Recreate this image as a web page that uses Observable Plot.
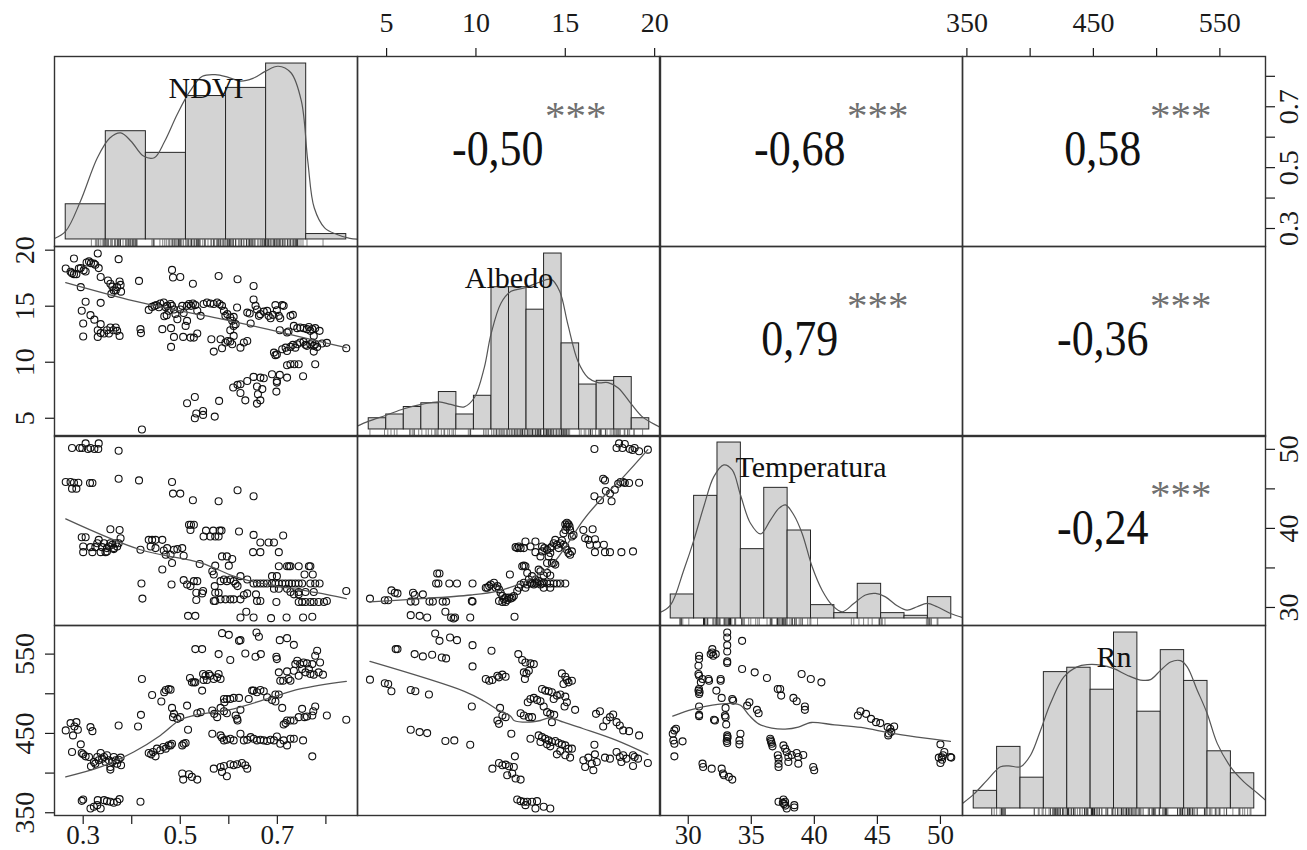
<!DOCTYPE html>
<html><head><meta charset="utf-8">
<script src="https://cdn.jsdelivr.net/npm/d3@7"></script>
<script src="https://cdn.jsdelivr.net/npm/@observablehq/plot@0.6"></script>
<style>
html,body{margin:0;padding:0;background:#fff;}
#chart{position:relative;width:1307px;height:850px;overflow:hidden;background:#fff;}
</style></head><body><div id="chart"></div>
<script>
// ---------------- DATA ----------------
const variables = ["NDVI", "Albedo", "Temperatura", "Rn"];

// scatter: [NDVI, Albedo]
const scatterNdviAlbedo = [[0.264,18.36],[0.274,18.07],[0.277,17.95],[0.281,17.86],[0.286,17.86],[0.291,18.36],[0.281,19.26],[0.301,18.2],[0.307,18.9],[0.312,19.0],[0.316,18.84],[0.322,18.8],[0.325,18.7],[0.330,19.7],[0.332,18.4],[0.336,17.6],[0.305,18.1],[0.295,18.4],[0.351,17.3],[0.356,17.0],[0.36,16.75],[0.363,16.4],[0.367,16.4],[0.37,16.7],[0.373,19.2],[0.375,17.2],[0.377,16.9],[0.378,16.3],[0.358,16.1],
[0.295,16.7],[0.305,15.4],[0.297,14.6],[0.30,13.45],[0.30,12.3],[0.315,14.2],[0.323,13.8],[0.336,15.3],[0.336,13.4],[0.33,12.85],[0.33,12.26],[0.336,12.6],[0.343,12.56],[0.353,12.56],[0.356,13.1],[0.362,12.86],[0.367,13.1],[0.37,12.8],[0.375,12.35],[0.349,12.86],
[0.415,17.26],[0.418,12.95],[0.419,12.6],[0.421,4.0],[0.435,14.67],[0.442,14.94],[0.447,15.03],[0.451,15.1],[0.456,14.9],[0.459,15.24],[0.466,15.33],[0.47,14.9],[0.473,15.03],[0.476,14.6],[0.48,15.2],[0.467,14.1],[0.472,14.2],[0.483,15.03],[0.487,14.7],[0.49,14.3],[0.494,13.84],[0.50,14.7],[0.504,15.03],[0.507,14.4],[0.514,15.03],[0.518,15.2],[0.522,15.03],[0.526,15.24],[0.531,15.1],[0.535,14.6],[0.542,14.14],[0.548,15.2],[0.555,15.33],[0.562,15.24],[0.569,15.2],[0.576,15.33],[0.581,15.2],[0.586,15.03],[0.59,14.58],[0.593,14.14],[0.597,14.29],[0.603,13.99],[0.607,13.7],[0.61,14.05],[0.617,14.88],
[0.483,18.24],[0.485,17.56],[0.50,17.6],[0.526,17.0],[0.579,17.7],[0.618,17.4],[0.651,16.8],
[0.463,12.95],[0.481,13.04],[0.481,11.37],[0.487,12.26],[0.506,12.26],[0.511,13.24],[0.514,13.69],[0.521,12.2],[0.528,12.2],[0.535,12.56],
[0.514,6.34],[0.53,6.9],[0.533,5.42],[0.53,5.0],[0.547,5.65],[0.547,5.3],[0.571,5.15],[0.58,6.55],
[0.564,12.05],[0.569,10.95],[0.583,12.05],[0.586,11.25],[0.593,11.76],[0.598,11.9],[0.603,11.85],[0.607,11.6],[0.61,12.35],[0.603,12.86],[0.61,13.24],[0.614,13.4],[0.624,11.3],[0.631,11.76],[0.638,11.9],
[0.638,14.43],[0.643,14.35],[0.645,13.45],[0.651,15.6],[0.655,15.03],[0.658,14.7],[0.662,14.14],[0.665,14.29],[0.672,14.52],[0.679,14.58],[0.682,14.14],[0.686,13.93],[0.691,14.23],[0.696,15.1],[0.699,14.64],[0.703,14.14],[0.706,13.93],[0.71,15.1],[0.713,15.03],
[0.705,12.86],[0.72,12.65],[0.723,12.74],[0.727,14.14],[0.732,14.23],[0.734,13.24],[0.741,13.04],[0.747,13.1],[0.754,13.04],[0.761,12.95],[0.765,13.15],[0.768,12.8],[0.772,12.95],[0.775,12.35],[0.778,13.04],[0.787,12.8],
[0.693,10.86],[0.696,10.63],[0.699,10.7],[0.71,11.16],[0.717,11.3],[0.72,11.0],[0.727,11.37],[0.732,11.55],[0.737,11.3],[0.741,11.6],[0.747,11.76],[0.754,11.82],[0.758,11.55],[0.761,11.46],[0.768,11.6],[0.772,11.76],[0.775,11.46],[0.778,11.6],[0.782,11.37],[0.775,10.95],[0.792,11.67],[0.802,11.73],[0.842,11.25],
[0.72,9.73],[0.727,9.82],[0.735,9.82],[0.744,9.82],[0.778,9.82],[0.753,8.75],[0.705,8.87],[0.72,8.63],[0.699,8.33],[0.699,8.18],[0.698,7.38],[0.689,8.93],[0.672,8.57],[0.665,8.63],[0.658,7.83],[0.66,7.14],[0.658,6.31],[0.665,6.6],[0.669,7.6],[0.651,8.69],[0.638,8.33],[0.634,6.6],[0.624,8.04],[0.624,7.26],[0.618,7.98],[0.609,7.74]];

// scatter: [NDVI, Temperatura]
const scatterNdviTemp = [[0.277,50.16],[0.293,50.16],[0.298,50.16],[0.305,50.75],[0.31,50.04],[0.315,50.16],[0.323,50.04],[0.331,50.04],[0.332,50.75],[0.373,49.83],
[0.264,45.86],[0.274,45.86],[0.277,45.03],[0.281,45.78],[0.286,45.03],[0.29,45.78],[0.314,45.74],[0.319,45.74],[0.373,46.28],[0.415,46.07],[0.483,45.86],[0.485,44.4],[0.50,44.4],[0.526,43.56],[0.579,43.44],[0.618,44.82],[0.651,44.07],
[0.297,38.89],[0.305,38.89],[0.30,37.72],[0.30,37.0],[0.315,37.63],[0.319,37.0],[0.325,37.63],[0.329,38.13],[0.332,38.55],[0.336,37.0],[0.339,37.63],[0.343,38.13],[0.346,37.0],[0.349,37.51],[0.353,37.72],[0.356,38.13],[0.36,37.93],[0.363,37.51],[0.367,38.13],[0.37,37.72],[0.373,38.13],[0.377,38.76],[0.356,39.89],[0.375,39.8],[0.349,37.09],[0.363,37.38],
[0.418,37.3],[0.435,38.55],[0.442,38.55],[0.449,38.55],[0.463,38.55],[0.439,37.72],[0.449,37.51],[0.466,37.21],[0.473,37.51],[0.47,36.67],[0.48,36.67],[0.487,37.3],[0.494,37.38],[0.504,37.51],[0.507,36.55],[0.483,35.63],[0.463,34.8],[0.42,33.04],[0.422,31.12],[0.482,32.91],[0.507,33.46],[0.514,32.91],[0.521,32.7],[0.528,33.33],[0.535,33.33],[0.533,31.87],[0.547,32.08],[0.545,31.78],[0.533,30.95],[0.516,28.94],[0.531,28.94],
[0.518,40.47],[0.522,40.47],[0.528,40.47],[0.521,39.8],[0.553,39.72],[0.568,39.72],[0.581,39.72],[0.585,39.72],[0.572,38.97],[0.548,38.97],[0.562,38.97],[0.579,38.97],[0.586,36.46],[0.596,36.46],[0.607,36.13],[0.60,35.29],[0.54,35.5],[0.566,34.58],[0.569,34.17],[0.572,35.29],
[0.571,32.7],[0.583,33.33],[0.59,33.54],[0.596,33.33],[0.603,33.54],[0.61,33.33],[0.614,33.0],[0.618,32.7],[0.624,33.96],[0.638,33.54],[0.583,31.03],[0.593,31.03],[0.603,31.03],[0.61,31.03],[0.624,31.03],[0.631,31.58],[0.638,31.78],[0.572,30.82],[0.579,31.87],[0.572,31.87],
[0.621,39.6],[0.651,39.18],[0.665,38.22],[0.682,38.22],[0.693,38.22],[0.65,37.0],[0.665,37.0],[0.703,37.0],[0.712,39.1],[0.689,33.96],[0.699,33.96],[0.703,35.21],[0.72,35.21],[0.724,35.21],[0.727,35.21],[0.744,35.21],[0.765,35.21],[0.768,35.21],[0.756,34.17],[0.773,34.17],
[0.651,33.04],[0.658,33.04],[0.665,33.04],[0.672,33.04],[0.679,33.04],[0.689,33.04],[0.696,33.04],[0.703,33.04],[0.71,33.04],[0.717,33.04],[0.724,33.04],[0.73,33.04],[0.737,33.04],[0.744,33.04],[0.751,33.04],[0.768,33.04],[0.778,33.04],[0.787,33.04],
[0.693,32.37],[0.703,32.37],[0.72,32.37],[0.727,31.95],[0.734,31.66],[0.744,31.66],[0.758,31.95],[0.775,31.95],[0.658,30.82],[0.665,30.82],[0.698,30.7],[0.744,30.7],[0.751,30.7],[0.758,30.7],[0.768,30.7],[0.775,30.7],[0.785,30.7],[0.796,30.7],[0.802,30.82],[0.656,31.66],[0.842,32.08],
[0.624,28.74],[0.636,29.45],[0.651,28.74],[0.687,28.65],[0.719,28.74],[0.753,28.74],[0.772,28.82],[0.744,31.95],[0.569,30.82]];

// scatter: [NDVI, Rn]
const scatterNdviRn = [[0.264,453.8],[0.274,463],[0.279,447.5],[0.282,458.8],[0.286,464.2],[0.289,454.6],[0.295,436.2],[0.277,426.6],[0.297,425.3],[0.30,423.6],[0.305,421.1],[0.312,420.3],[0.315,458],[0.319,452.9],[0.316,408.6],[0.322,414],[0.325,411.9],[0.329,420.3],[0.332,416.1],[0.336,425.3],[0.339,418.2],[0.343,420.3],[0.346,414],[0.349,422.4],[0.353,416.1],[0.356,407.7],[0.36,414],[0.363,420.3],[0.367,416.1],[0.37,411.9],[0.373,416.9],[0.377,419.5],[0.378,409.8],[0.356,404.4],[0.373,460],
[0.297,365],[0.30,366.7],[0.315,355.4],[0.322,357.5],[0.329,359.6],[0.33,365.9],[0.336,355.4],[0.343,365.9],[0.349,364.6],[0.356,363.8],[0.363,362.6],[0.37,363.8],[0.375,367.2],[0.418,363.8],
[0.413,458.8],[0.419,473.4],[0.421,518.6],
[0.435,425.3],[0.44,423.6],[0.444,426.6],[0.449,421.1],[0.452,430.8],[0.459,428.7],[0.465,432.8],[0.47,430.8],[0.476,434.9],[0.48,434.9],[0.483,437],
[0.442,498.5],[0.461,490.2],[0.467,501.9],[0.47,504.8],[0.476,506.1],[0.48,505.2],[0.483,482.2],[0.485,470.5],[0.487,474.7],[0.494,468.4],[0.50,470.5],[0.504,434.9],[0.507,437],[0.511,437.9],[0.514,485.1],[0.516,454.6],[0.52,519.9],[0.524,514.4],[0.528,514.4],[0.531,514.4],[0.535,475.5],[0.542,476.8],[0.545,504],[0.547,524.9],[0.548,517.4],[0.552,522.8],[0.555,517.4],[0.559,524.9],[0.562,522.8],[0.569,518.6],[0.576,520.7],[0.579,524.9],[0.583,518.6],
[0.531,556.3],[0.545,556.3],[0.579,550],
[0.504,399.4],[0.506,391.8],[0.518,398.5],[0.524,395.2],[0.535,391.8],[0.569,405.6],[0.583,407.7],[0.586,401.5],[0.59,409],[0.596,396],[0.603,411.1],[0.61,409.8],[0.617,411.1],[0.627,412.8],[0.634,409.8],[0.638,405.6],
[0.566,449.6],[0.583,447.5],[0.586,444.6],[0.59,441.2],[0.596,442],[0.603,443.3],[0.61,441.2],[0.624,449.6],[0.631,441.2],[0.638,442],[0.645,445.4],[0.651,443.3],[0.658,441.2],[0.665,442],[0.672,441.2],[0.679,440.4],[0.686,442],[0.693,441.2],[0.699,446.2],[0.706,437],[0.713,441.2],[0.72,434.9],[0.727,443.3],[0.734,443.3],[0.753,441.2],
[0.566,478.9],[0.57,474.7],[0.576,470.5],[0.583,482.2],[0.59,493.5],[0.591,489.3],[0.596,493.5],[0.603,493.5],[0.61,494.8],[0.614,472.6],[0.617,468.4],[0.621,494.8],[0.624,479.7],[0.59,478],[0.596,475.5],[0.618,466.3],
[0.641,493.5],[0.648,504],[0.651,504],[0.658,501.9],[0.665,504.8],[0.672,503.1],[0.679,495.6],[0.689,492.3],[0.696,490.2],[0.696,499],[0.703,499],[0.71,482.2],[0.713,461.3],[0.717,463],[0.72,466.3],[0.727,466.3],[0.734,466.3],[0.744,470.5],[0.751,481],[0.756,470.5],[0.761,471.3],[0.772,472.6],[0.774,478],[0.778,483.9],[0.802,472.6],[0.842,467.2],
[0.586,576.4],[0.60,574.3],[0.603,542.5],[0.621,566.7],[0.624,567.6],[0.634,550.8],[0.657,577.2],[0.662,571.8],[0.655,546.7],[0.666,550],[0.698,546.7],[0.699,543.7],[0.705,567.6],[0.72,570.1],[0.734,561.7],
[0.703,527],[0.706,516.5],[0.712,516.5],[0.72,528.2],[0.723,518.6],[0.727,516.5],[0.734,529.1],[0.737,537.4],[0.741,541.6],[0.744,522.8],[0.747,537.4],[0.751,531.2],[0.754,539.5],[0.758,527],[0.765,531.2],[0.768,524.9],[0.772,537.4],[0.778,547.9],[0.782,554.2],[0.785,527],[0.788,539.5],[0.794,524.1],[0.775,524.1],[0.761,538.3],[0.772,421.1]];

// scatter: [Albedo, Temperatura]
const scatterAlbedoTemp = [[4.07,31.12],[4.9,30.91],[5.09,30.91],[5.27,32.16],[5.46,31.87],[5.61,31.78],[6.35,29.03],[6.48,31.87],[6.57,31.58],[6.35,30.74],[6.61,30.74],[6.85,28.94],[7.03,31.66],[7.27,28.74],[7.4,30.74],[7.59,30.74],[7.77,33.04],[7.83,34.29],[7.96,34.29],[7.9,33.04],[8.14,30.74],[8.33,30.74],[8.29,29.45],[8.51,33.04],[8.61,28.74],[8.75,28.61],[8.83,28.74],[8.94,33.04],[9.68,28.74],[9.81,33.04],[9.81,30.74],[9.77,30.82],
[10.55,32.49],[10.64,32.49],[10.74,32.7],[10.83,32.91],[11.01,33.12],[11.11,32.49],[11.2,32.7],[11.29,32.29],[11.38,31.87],[11.48,31.45],[11.57,31.03],[11.66,31.24],[11.75,30.95],[11.85,31.24],[11.94,31.12],[12.03,31.24],[12.12,31.45],[11.29,30.82],[11.48,30.7],[11.66,30.7],[11.9,34.17],[12.16,28.82],[12.31,32.08],[12.4,32.49],[12.5,32.91],[12.68,33.12],[12.77,32.49],[12.87,32.91],[12.96,33.54],[13.05,33.12],[13.14,33.04],[13.24,32.91],[13.33,33.04],[13.42,33.12],[13.51,33.33],[13.61,32.91],[13.7,33.04],[13.79,33.12],[13.98,33.04],[14.16,33.04],[14.35,33.04],[14.53,33.04],[14.72,33.04],[15.0,33.04],[14.16,32.49],[13.79,32.49],
[12.59,35.21],[12.68,35.29],[12.77,35.21],[12.87,34.37],[13.14,33.96],[13.33,33.54],[13.51,34.79],[13.61,34.58],[13.79,34.04],[13.98,34.37],[14.16,34.04],[14.25,35.63],[14.35,35.63],[14.44,35.42],[13.98,35.63],[14.07,36.46],[14.16,36.88],[13.61,36.46],[13.7,37.09],[13.83,37.51],[13.98,37.3],[14.16,37.51],[14.25,37.72],[14.35,38.13],[14.44,38.55],[14.53,37.93],[14.63,37.51],[14.72,38.13],[14.81,38.47],[14.9,37.93],[15.0,37.72],[15.09,37.3],[15.18,36.88],[15.27,36.67],[15.37,37.09],
[14.9,39.39],[15.0,39.8],[15.09,40.22],[15.18,40.51],[15.27,39.8],[15.37,38.97],[15.46,39.18],[15.0,40.51],[15.09,40.72],[15.24,40.22],
[12.22,37.63],[12.31,37.51],[12.4,37.72],[12.5,37.51],[12.68,37.51],[12.77,38.34],[13.05,37.72],[13.33,38.34],[13.7,37.72],[13.33,37.0],
[16.01,39.8],[16.11,38.76],[16.29,38.55],[16.38,37.93],[16.53,39.89],[16.66,38.63],[16.76,37.93],[16.66,37.0],[17.16,37.93],[17.22,37.0],[17.5,37.0],[18.14,37.0],[18.79,37.09],
[16.63,44.07],[16.94,43.56],[17.12,46.28],[17.22,46.07],[17.27,44.73],[17.5,44.4],[17.59,43.44],[17.77,44.9],[17.96,45.65],[18.09,45.86],[18.24,45.86],[18.33,45.74],[18.57,45.74],[19.13,45.78],
[17.87,50.16],[18.01,50.75],[18.2,50.16],[18.33,50.67],[18.61,50.04],[18.76,49.91],[18.88,50.16],[19.13,49.75],[19.62,49.96],[16.63,50.04]];

// scatter: [Albedo, Rn]
const scatterAlbedoRn = [[4.07,517.8],[4.9,513.2],[5.09,512.3],[5.27,503.1],[6.35,504.8],[6.61,503.1],[7.37,499],[5.51,556.3],[5.61,556.3],[6.57,550],[7.03,547.1],[7.55,549.2],[8.09,545.8],[8.33,544.6],[7.72,575.9],[7.96,566.7],[8.55,570.9],[8.94,567.6],[9.81,561.3],[9.81,534.5],[10.87,554.2],[9.77,483.9],[6.35,454.6],[6.85,451.7],[7.27,450.4],[8.29,440.4],[8.79,441.2],[9.68,435.8],
[10.55,518.6],[10.74,516.5],[10.92,517.4],[11.2,522.8],[11.29,520.7],[11.48,524.1],[11.66,521.5],[11.35,482.2],[11.2,466.3],[11.29,462.1],[11.48,472.6],[11.66,470.5],[11.98,449.6],[12.18,421.1],
[10.92,405.6],[11.29,412.8],[11.48,409.8],[11.66,410.7],[11.85,408.6],[12.12,407.7],[11.75,397.3],[12.03,399.4],[12.22,393.1],[12.5,391.8],[12.31,366.7],[12.5,364.6],[12.68,363.8],[12.87,363.8],[13.14,363.8],[13.42,364.6],[12.77,359.6],[13.33,355.4],[13.79,357.5],[14.16,355.4],
[12.37,550],[12.59,542.5],[12.77,539.5],[13.05,538.3],[13.24,537.4],[12.68,527],[12.83,525.7],[12.96,529.1],[12.74,518.6],
[12.5,475.5],[12.68,472.6],[12.96,470.5],[13.14,470.5],[12.9,489.3],[13.05,493.5],[13.24,494.8],[13.42,492.3],[13.61,490.6],[13.79,483.9],[13.98,476.8],[14.16,474.7],[14.38,473.4],[14.25,464.2],
[13.7,506.1],[13.88,504],[14.07,503.1],[14.25,501.9],[14.35,493.5],[14.53,497.7],[14.72,499],[15.0,496.4],[15.09,489.3],[14.96,483.9],[15.55,479.7],
[13.05,443.3],[13.51,447.5],[13.7,445.4],[13.88,443.3],[14.07,441.2],[14.25,439.1],[14.44,440.4],[14.63,437.9],[14.81,436.2],[15.0,434.9],[15.18,430.8],[15.37,430.8],[13.61,439.1],[13.98,436.2],[14.16,433.7],[14.53,423.6],[14.72,427.8],[15.0,422.4],[15.27,419.5],
[14.81,525.7],[15.0,521.5],[15.09,517.4],[15.18,514.4],[15.37,516.5],[14.9,512.3],
[16.01,416.1],[16.11,407.7],[16.29,419.5],[16.48,411.9],[16.57,403.6],[16.66,423.6],[16.76,414],[17.22,419.5],[17.5,418.2],[17.87,426.6],[18.05,420.3],[18.14,414],[18.24,422.4],[18.42,418.2],[18.79,422.4],[18.88,420.3],[18.79,409],[19.07,418.2],[19.62,412.8],
[16.63,435.8],[16.72,474.7],[16.94,478],[17.12,458.8],[17.31,466.3],[17.5,470.5],[17.68,473.8],[17.87,464.2],[18.05,460],[18.24,453.8],[18.57,452.9],[19.13,447.5]];

// scatter: [Temperatura, Rn]
const scatterTempRn = [[28.77,449.6],[28.9,453.8],[29.03,455.9],[28.82,441.2],[28.9,437],[28.9,421.1],[29.55,440],
[30.86,547.9],[30.86,543.7],[30.81,535.4],[30.81,524.9],[30.86,522.8],[31.0,514.4],[30.81,504],[30.86,499.8],[30.86,483.9],[30.86,473.4],[30.86,471.8],[31.13,518.6],[31.6,518.6],[31.65,516.5],[31.78,550],[31.91,556.3],[31.99,547.9],[32.18,550],[32.23,504],[32.04,467.2],[32.12,466.3],[31.13,411.9],[31.18,407.7],[31.86,405.6],[30.9,502],[30.85,506],[31.9,552],
[32.57,518.6],[32.57,516.5],[32.65,494.8],[32.65,405.6],[32.75,399.4],[32.83,397.3],[32.96,482.2],[32.91,472.6],[32.96,470.5],[33.01,461.3],[33.09,577.2],[33.09,570.9],[33.09,561.3],[33.09,553.3],[33.09,540.8],[33.09,538.7],[33.09,447.5],[33.09,443.3],[33.09,437.9],[33.12,445.4],[33.05,440.4],[33.22,395.2],[33.49,391.8],[33.49,493.5],[33.56,491.4],
[34.27,566.7],[34.27,531.2],[34.14,449.6],[34.06,441.2],[34.06,436.2],[34.67,485.1],[34.85,489.3],[35.27,527],[35.45,479.7],[35.58,475.5],[36.24,519.9],[36.5,443.3],[36.58,439.1],[36.68,433.7],[36.55,441],[36.62,437],[37.1,506.1],[37.29,506.1],[37.37,497.7],[37.1,422.4],[37.16,418.2],[37.16,411.9],[37.16,407.7],[37.55,434.9],[37.68,430.8],[37.81,426.6],[37.94,420.3],[37.94,414],[38.2,422.8],[38.34,494.8],[38.6,490.6],[38.6,425.3],[38.73,420.3],[38.73,411.9],[38.99,524.9],[39.12,422.8],[39.25,483.9],[39.25,479.7],[39.72,518.6],[39.91,407.7],[39.99,403.5],[40.56,514.4],
[37.16,363.8],[37.55,366.7],[37.68,363.8],[37.81,355.4],[38.41,359.6],[38.41,356.7],[37.6,361],[37.7,359],[37.5,362.5],
[43.45,472.6],[43.66,478],[44.1,474.7],[44.5,468.4],[44.89,464.2],[45.23,463],[45.81,458],[46.02,455.9],[45.86,447.5],[46.33,458.8],[45.9,450],[46.1,452],
[50.0,436.2],[49.87,419.5],[50.0,412.8],[50.21,422.4],[50.31,426.6],[50.79,420.3],[50.86,419.5],[50.13,416.9],[50.1,420]];

// smoothed (loess) lines
const loessNdviAlbedo = [[0.264,17.11],[0.404,15.48],[0.50,14.58],[0.576,13.93],[0.679,12.95],[0.782,11.9],[0.842,11.31]];
const loessNdviTemp = [[0.264,41.2],[0.418,37.3],[0.542,35.63],[0.61,33.96],[0.645,33.33],[0.699,32.7],[0.781,31.87],[0.842,31.12]];
const loessNdviRn = [[0.264,395.2],[0.336,407.7],[0.404,426.6],[0.459,447.5],[0.50,467.2],[0.528,472.6],[0.569,476.8],[0.61,481],[0.679,493.5],[0.747,506.1],[0.842,515.7]];
const loessAlbedoTemp = [[4.07,30.7],[6.38,31.03],[9.72,31.58],[11.2,32.08],[12.68,33.21],[14.16,35.21],[15.09,37.93],[16.01,41.06],[17.12,43.98],[18.24,46.49],[19.62,49.96]];
const loessAlbedoRn = [[4.07,540.8],[9.35,503.1],[10.46,490.6],[11.2,480.1],[11.94,471.8],[12.13,466.3],[12.87,464.2],[13.61,466.3],[14.16,469.7],[14.9,464.2],[16.01,455.9],[17.87,441.2],[19.62,423.6]];
const loessTempRn = [[28.77,471.8],[30.34,480.3],[31.91,485.7],[33.49,487.7],[34.14,485.6],[34.8,473.4],[35.58,462.1],[36.63,456.7],[37.68,455.4],[38.73,457.9],[39.38,462.1],[39.78,463.8],[41.61,460.9],[43.71,457.5],[46.07,450.4],[48.17,445.4],[50.79,440]];

// histograms (breaks and counts)
const ndviBreaks = [0.2,0.3,0.4,0.5,0.6,0.7,0.8,0.9];
const ndviCounts = [13,40,32,53,56,65,2];
const albedoBreaks = [4,5,6,7,8,9,10,11,12,13,14,15,16,17,18,19,20];
const albedoCounts = [3,4,6,7,10,4,9,38,38,32,47,23,12,13,14,3];
const tempBreaks = [28,30,32,34,36,38,40,42,44,46,48,50,52];
const tempCounts = [9,46,66,26,49,33,5,2,13,2,1,8];
const rnBreaks = [340,360,380,400,420,440,460,480,500,520,540,560,580];
const rnCounts = [4,14,7,31,32,27,40,22,36,29,13,8];

// density curves (in count units of the histograms)
const densNdvi = [[0.172,0.37],[0.2,3.08],[0.237,14.2],[0.279,30.2],[0.31,37.5],[0.337,39.4],[0.363,36.3],[0.394,30.8],[0.421,30.2],[0.447,36.3],[0.478,46.2],[0.51,54.8],[0.541,60.3],[0.573,60.9],[0.604,60],[0.636,58.5],[0.667,59.5],[0.699,62.2],[0.73,64],[0.762,61.6],[0.788,51.1],[0.804,28.9],[0.82,11.7],[0.846,4.3],[0.877,1.85],[0.909,0.37],[0.928,0.12]];
const densAlbedo = [[3.34,0.89],[4.0,2.23],[4.96,3.74],[6.01,5.52],[7.0,6.68],[8.01,7.39],[8.68,6.68],[9.45,6.05],[10.02,8.46],[10.59,16.5],[10.97,25.4],[11.55,33.8],[12.12,36.9],[12.88,37.8],[13.65,39.2],[14.41,40.1],[14.89,36.9],[15.36,28],[15.93,18.2],[16.51,13.8],[17.08,12.5],[17.65,12.5],[18.23,11.1],[18.99,6.68],[19.56,3.56],[20.13,1.78],[20.61,0.62]];
const densTemp = [[27.04,2.13],[27.98,5.0],[29.12,18.2],[29.98,29.4],[30.83,42],[31.69,53.2],[32.54,57.6],[33.26,55.7],[33.97,46.3],[34.82,35.7],[35.68,31.7],[36.53,36.9],[37.25,41.3],[37.82,42.6],[38.53,38.8],[39.24,31.9],[40.1,19.4],[40.95,10.6],[41.81,5.0],[42.66,2.5],[43.66,5.6],[44.66,8.8],[45.52,9.4],[46.37,8.1],[47.37,4.76],[48.22,3.13],[49.08,4.38],[49.93,5.64],[50.79,4.38],[51.93,1.88],[52.96,0.38]];
const densRn = [[330.4,1.14],[340.1,3.26],[351.5,6.44],[362.9,9.47],[370,9.7],[380,9.47],[388.6,12.1],[397.2,17.8],[405.7,23.9],[417.1,29.9],[428.5,32.2],[437.1,32.7],[448.5,32.6],[459.9,31.8],[471.3,30.3],[482.7,29.2],[491.2,29.3],[499.8,31.4],[508.4,33.3],[516.9,33.6],[522.6,32.2],[531.2,26.9],[539.7,21.6],[548.3,14.8],[559.7,9.47],[571.1,6.06],[579.6,4.17],[589.6,1.89]];

// correlations (upper triangle, row-major) and significance
const corrValues = [-0.50, -0.68, 0.58, 0.79, -0.36, -0.24];
const corrStars = ["***", "***", "***", "***", "***", "***"];

// axis ticks and labelled ticks
const ndviTicks = [0.3,0.4,0.5,0.6,0.7,0.8];
const ndviLabels = [0.3,0.5,0.7];
const albedoTicks = [5,10,15,20];
const albedoLabels = [5,10,15,20];
const tempTicks = [30,35,40,45,50];
const tempLabelsBottom = [30,35,40,45,50];
const tempLabelsRight = [30,40,50];
const rnTicks = [350,400,450,500,550];
const rnLabels = [350,450,550];

// ---------------- LAYOUT ----------------
const colLeft = [54, 357, 659, 962];
const rowTop = [56, 246, 435, 625];
const W = 303, H = 190;
const FONT = "'Liberation Serif', 'Times New Roman', Times, serif";
const chart = document.getElementById("chart");

const padded = ([a, b]) => { const d = b - a; return [a - 0.04 * d, b + 0.04 * d]; };
const values = {
  NDVI: [...scatterNdviAlbedo, ...scatterNdviTemp, ...scatterNdviRn].map(d => d[0]),
  Albedo: [...scatterNdviAlbedo.map(d => d[1]), ...scatterAlbedoTemp.map(d => d[0]), ...scatterAlbedoRn.map(d => d[0])],
  Temperatura: [...scatterNdviTemp.map(d => d[1]), ...scatterAlbedoTemp.map(d => d[1]), ...scatterTempRn.map(d => d[0])],
  Rn: [...scatterNdviRn, ...scatterAlbedoRn, ...scatterTempRn].map(d => d[1])
};
const domain = {};
for (const v of variables) domain[v] = padded(d3.extent(values[v]));

const axisSpec = {
  NDVI: {ticks: ndviTicks, bottom: ndviLabels, right: ndviLabels},
  Albedo: {ticks: albedoTicks, top: albedoLabels, left: albedoLabels},
  Temperatura: {ticks: tempTicks, bottom: tempLabelsBottom, right: tempLabelsRight},
  Rn: {ticks: rnTicks, top: rnLabels, left: rnLabels}
};
const fmt = labels => d => labels.includes(d) ? String(d) : "";
const axisCommon = {tickSize: 9, fontSize: 28, strokeWidth: 1.2};

function axesFor(row, col) {
  const m = [];
  const cv = variables[col], rv = variables[row];
  if (row === 0 && col % 2 === 1) m.push(Plot.axisX(axisSpec[cv].ticks, {...axisCommon, anchor: "top", tickPadding: 16, tickFormat: fmt(axisSpec[cv].top)}));
  if (row === 3 && col % 2 === 0) m.push(Plot.axisX(axisSpec[cv].ticks, {...axisCommon, fontSize: 27, anchor: "bottom", tickPadding: 0, tickFormat: fmt(axisSpec[cv].bottom)}));
  if (col === 0 && row % 2 === 1) m.push(Plot.axisY(axisSpec[rv].ticks, {...axisCommon, anchor: "left", tickPadding: 12, tickRotate: -90, textAnchor: "middle", lineAnchor: "bottom", tickFormat: fmt(axisSpec[rv].left)}));
  if (col === 3 && row % 2 === 0) m.push(Plot.axisY(axisSpec[rv].ticks, {...axisCommon, anchor: "right", tickPadding: 4, tickRotate: -90, textAnchor: "middle", lineAnchor: "top", tickFormat: fmt(axisSpec[rv].right)}));
  return m;
}

function place(row, col, xdom, ydom, marks) {
  const svg = Plot.plot({
    width: W, height: H, margin: 0,
    x: {domain: xdom, axis: null},
    y: {domain: ydom, axis: null},
    style: {position: "absolute", left: colLeft[col] + "px", top: rowTop[row] + "px", overflow: "visible",
            background: "transparent", fontFamily: FONT, fontSize: "28px", color: "#1a1a1a", maxWidth: "none"},
    marks: [...marks, ...axesFor(row, col), Plot.frame({stroke: "#333", strokeWidth: 1.4})]
  });
  chart.appendChild(svg);
  return svg;
}

// narrow a text horizontally (the reference's figures are tall and narrow)
function condense(svg, str, sx) {
  svg.querySelectorAll("text").forEach(el => {
    if (el.textContent !== str) return;
    const t = el.getAttribute("transform");
    if (t) el.setAttribute("transform", t + ` scale(${sx},1)`);
    else {
      const x = +(el.getAttribute("x") || 0), y = +(el.getAttribute("y") || 0);
      el.removeAttribute("x"); el.removeAttribute("y");
      el.setAttribute("transform", `translate(${x},${y}) scale(${sx},1)`);
    }
  });
}

// diagonal: histograms
const hists = [
  {name: "NDVI", breaks: ndviBreaks, counts: ndviCounts, dens: densNdvi, rug: scatterNdviAlbedo.map(d => d[0])},
  {name: "Albedo", breaks: albedoBreaks, counts: albedoCounts, dens: densAlbedo, rug: scatterAlbedoTemp.map(d => d[0])},
  {name: "Temperatura", breaks: tempBreaks, counts: tempCounts, dens: densTemp, rug: scatterTempRn.map(d => d[0])},
  {name: "Rn", breaks: rnBreaks, counts: rnCounts, dens: densRn, rug: scatterNdviRn.map(d => d[1])}
];
hists.forEach((h, i) => {
  const xd = padded([h.breaks[0], h.breaks[h.breaks.length - 1]]);
  const M = d3.max(h.counts);
  const yd = padded([0, M]);
  const bins = h.counts.map((c, k) => ({x1: h.breaks[k], x2: h.breaks[k + 1], c}));
  const rugTop = yd[0] + 0.035 * (yd[1] - yd[0]);
  place(i, i, xd, yd, [
    Plot.rect(bins, {x1: "x1", x2: "x2", y1: 0, y2: "c", fill: "#d3d3d3", stroke: "#262626", strokeWidth: 1}),
    Plot.ruleX(h.rug, {x: d => d, y1: yd[0], y2: rugTop, stroke: "#222", strokeWidth: 0.7, strokeOpacity: 0.8}),
    Plot.line(h.dens, {x: d => d[0], y: d => d[1], stroke: "#555", strokeWidth: 1.2, curve: "catmull-rom", clip: true}),
    Plot.text([h.name], {text: d => d, frameAnchor: "top", dy: 32, fontSize: 30, lineAnchor: "middle", fill: "#111"})
  ]);
});

// lower triangle: scatter plots with smoothed line
const scatterPanels = [
  {row: 1, col: 0, data: scatterNdviAlbedo, loess: loessNdviAlbedo},
  {row: 2, col: 0, data: scatterNdviTemp, loess: loessNdviTemp},
  {row: 3, col: 0, data: scatterNdviRn, loess: loessNdviRn},
  {row: 2, col: 1, data: scatterAlbedoTemp, loess: loessAlbedoTemp},
  {row: 3, col: 1, data: scatterAlbedoRn, loess: loessAlbedoRn},
  {row: 3, col: 2, data: scatterTempRn, loess: loessTempRn}
];
for (const p of scatterPanels) {
  place(p.row, p.col, domain[variables[p.col]], domain[variables[p.row]], [
    Plot.dot(p.data, {x: d => d[0], y: d => d[1], r: 3.5, stroke: "#111", strokeWidth: 1.1, fill: "none"}),
    Plot.line(p.loess, {x: d => d[0], y: d => d[1], stroke: "#555", strokeWidth: 1.3, curve: "catmull-rom"})
  ]);
}

// upper triangle: correlation coefficients
const upper = [[0,1],[0,2],[0,3],[1,2],[1,3],[2,3]];
upper.forEach(([row, col], k) => {
  const label = corrValues[k].toFixed(2).replace(".", ",");
  const svg = place(row, col, domain[variables[col]], domain[variables[row]], [
    Plot.text([label], {text: d => d, frameAnchor: "top-left", dx: 0.463 * W, dy: 0.485 * H, fontSize: 50, textAnchor: "middle", lineAnchor: "middle", fill: "#111"}),
    Plot.text([corrStars[k]], {text: d => d, frameAnchor: "top-left", dx: 0.72 * W, dy: 0.31 * H, fontSize: 41, textAnchor: "middle", lineAnchor: "middle", fill: "#707070"})
  ]);
  condense(svg, label, 0.88);
});
</script>
</body></html>
